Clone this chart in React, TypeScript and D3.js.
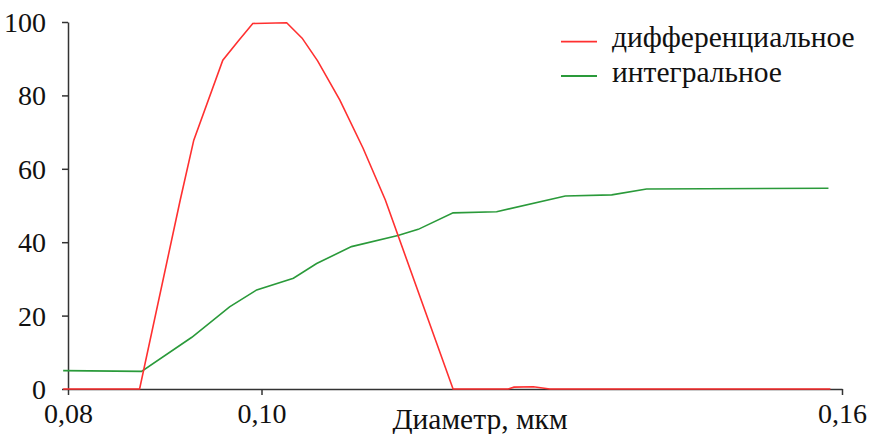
import { useRef, useEffect } from 'react';
import * as d3 from 'd3';

// Differential distribution: diameter (µm) -> %
const diffD = [0.0795, 0.0874, 0.0916, 0.093, 0.096, 0.0976, 0.0991, 0.1026, 0.1042, 0.1058, 0.1081, 0.1105, 0.1128, 0.1198, 0.1255, 0.1261, 0.1281, 0.1298, 0.1588];
const diffV = [0, 0, 51.5, 67.8, 89.6, 94.8, 99.6, 99.8, 95.6, 89.4, 78.7, 65.6, 51.5, 0, 0, 0.5, 0.6, 0, 0];

// Integral distribution
const intD = [0.0795, 0.0876, 0.0928, 0.0967, 0.0995, 0.1033, 0.1057, 0.1093, 0.1141, 0.1162, 0.1198, 0.1243, 0.1314, 0.1362, 0.1398, 0.1586];
const intV = [5.0, 4.8, 14.1, 22.4, 27.0, 30.2, 34.2, 38.8, 41.8, 43.5, 48.0, 48.3, 52.6, 52.9, 54.5, 54.7];

const xTicks = [0.08, 0.1, 0.16];
const yTicks = [0, 20, 40, 60, 80, 100];
const seriesNames = ['дифференциальное', 'интегральное'];
const seriesColors = ['#ff3030', '#2a9a3a'];

const W = 880;
const H = 434;
const FONT = "'Liberation Serif', 'Times New Roman', serif";

export default function App() {
  const svgRef = useRef(null);

  useEffect(() => {
    const svg = d3.select(svgRef.current);
    svg.selectAll('*').remove();

    const x = d3.scaleLinear().domain([0.08, 0.16]).range([68, 842]);
    const y = d3.scaleLinear().domain([0, 100]).range([389, 22]);
    const axisColor = '#333';

    // y axis
    const yAxis = svg.append('g')
      .attr('transform', 'translate(68,0)')
      .call(d3.axisLeft(y).tickValues(yTicks).tickSize(6).tickPadding(16).tickSizeOuter(0));
    yAxis.attr('font-family', null).attr('font-size', null);
    yAxis.select('.domain').attr('stroke', axisColor).attr('stroke-width', 1.5);
    yAxis.selectAll('line').attr('stroke', axisColor).attr('stroke-width', 1.5);
    yAxis.selectAll('text')
      .style('font-family', FONT)
      .style('font-size', '28px')
      .attr('fill', '#111')
      .attr('dy', '0.34em');

    // x axis
    const xAxis = svg.append('g')
      .attr('transform', 'translate(0,389)')
      .call(d3.axisBottom(x).tickValues(xTicks).tickSize(6).tickPadding(8).tickSizeOuter(0)
        .tickFormat(d => d3.format('.2f')(d).replace('.', ',')));
    xAxis.attr('font-family', null).attr('font-size', null);
    xAxis.select('.domain').attr('stroke', axisColor).attr('stroke-width', 1.5);
    xAxis.selectAll('line').attr('stroke', axisColor).attr('stroke-width', 1.5);
    xAxis.selectAll('text')
      .attr('y', 34)
      .attr('dy', null)
      .style('font-family', FONT)
      .style('font-size', '28px')
      .attr('fill', '#111');

    svg.append('text')
      .attr('x', 480)
      .attr('y', 429)
      .attr('text-anchor', 'middle')
      .style('font-family', FONT)
      .style('font-size', '29.5px')
      .attr('fill', '#111')
      .text('Диаметр, мкм');

    const line = d3.line()
      .x(d => x(d[0]))
      .y(d => y(d[1]));

    const diff = diffD.map((d, i) => [d, diffV[i]]);
    const integ = intD.map((d, i) => [d, intV[i]]);

    svg.append('path')
      .datum(integ)
      .attr('d', line)
      .attr('fill', 'none')
      .attr('stroke', seriesColors[1])
      .attr('stroke-width', 1.6);

    svg.append('path')
      .datum(diff)
      .attr('d', line)
      .attr('fill', 'none')
      .attr('stroke', seriesColors[0])
      .attr('stroke-width', 1.6);

    // legend
    seriesNames.forEach((name, i) => {
      const ly = 41.7 + i * 34.3;
      svg.append('line')
        .attr('x1', 561)
        .attr('x2', 597)
        .attr('y1', ly)
        .attr('y2', ly)
        .attr('stroke', seriesColors[i])
        .attr('stroke-width', 1.8);
      svg.append('text')
        .attr('x', 612)
        .attr('y', ly + 5.5)
        .style('font-family', FONT)
        .style('font-size', '29.5px')
        .attr('fill', '#111')
        .text(name);
    });
  }, []);

  return (
    <svg ref={svgRef} width={W} height={H}
      style={{ position: 'absolute', left: 0, top: 0, background: '#fff' }} />
  );
}
